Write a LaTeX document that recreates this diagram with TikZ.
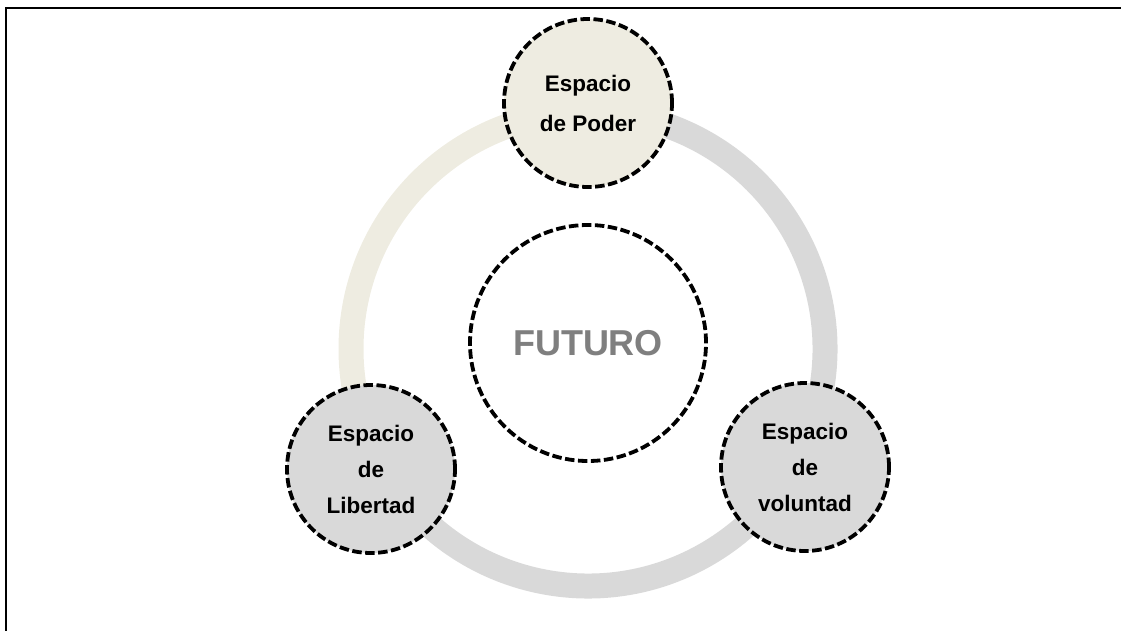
\documentclass[tikz,border=0pt]{standalone}
\usepackage{fontspec}
\setmainfont{Liberation Sans}
\definecolor{beige}{HTML}{EEECE1}
\definecolor{lgray}{HTML}{D9D9D9}
\definecolor{futgray}{HTML}{7F7F7F}
\begin{document}
\begin{tikzpicture}[x=1pt,y=1pt,
  dashedrim/.style={draw=black, line width=3.8pt, dash pattern=on 9.5pt off 3.5pt},
  spacecircle/.style={circle, dashedrim,
    minimum size=168pt, inner sep=0pt, align=center, font=\bfseries\fontsize{22.5}{36}\selectfont},
  ringarc/.style={line width=25pt}]
\useasboundingbox (0,0) rectangle (1121,-631);
% frame (left and top edges only)
\draw[line width=2.7pt] (6,-631) -- (6,-8) -- (1121,-8);
% ring
\coordinate (C) at (588,-349);
\draw[ringarc, beige] (C) ++(90:237) arc[start angle=90, end angle=210, radius=237];
\draw[ringarc, lgray] (C) ++(210:237) arc[start angle=210, end angle=450, radius=237];
% central circle
\node[circle, dashedrim, minimum size=236pt,
  inner sep=0pt, fill=white, text=futgray, font=\bfseries\fontsize{36}{40}\selectfont]
  (fut) at (588,-343) {FUTURO};
% outer circles
\node[spacecircle, fill=beige, font=\bfseries\fontsize{22.5}{40}\selectfont] (poder) at (588,-103) {Espacio\\de Poder};
\node[spacecircle, fill=lgray] (libertad) at (371,-469) {Espacio\\de\\Libertad};
\node[spacecircle, fill=lgray] (voluntad) at (805,-467) {Espacio\\de\\voluntad};
\end{tikzpicture}
\end{document}
